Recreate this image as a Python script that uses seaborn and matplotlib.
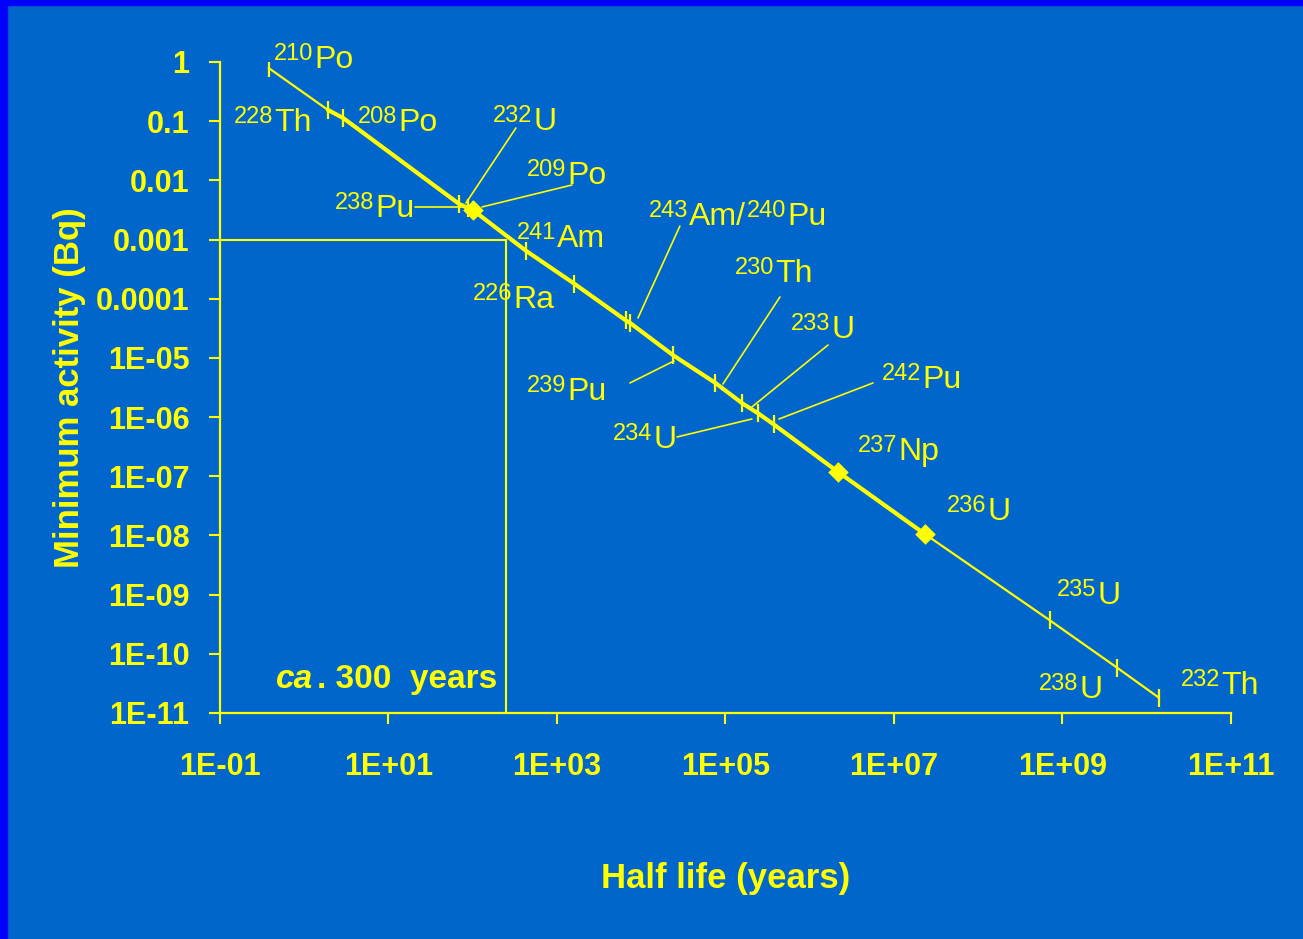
import re
import numpy as np
import pandas as pd
import seaborn as sns
import matplotlib.pyplot as plt
from matplotlib.patches import Rectangle

# Nuclides: half life (years) and minimum detectable activity (Bq)
isotopes = ["210Po", "228Th", "208Po", "232U", "238Pu", "209Po", "241Am", "226Ra",
            "240Pu", "243Am", "239Pu", "230Th", "233U", "234U", "242Pu", "237Np",
            "236U", "235U", "238U", "232Th"]
half_life = [0.379, 1.91, 2.90, 68.9, 87.7, 102, 432.6, 1600,
             6561, 7370, 24110, 75400, 159200, 245500, 375000, 2.14e6,
             2.34e7, 7.04e8, 4.47e9, 1.405e10]
min_activity = [0.79, 0.155, 0.113, 4.0e-3, 3.4e-3, 3.1e-3, 6.4e-4, 1.8e-4,
                4.3e-5, 3.9e-5, 1.1e-5, 3.8e-6, 1.7e-6, 1.15e-6, 7.5e-7, 1.2e-7,
                1.05e-8, 3.7e-10, 5.8e-11, 1.8e-11]
diamond_isotopes = ["209Po", "237Np", "236U"]
thick_from, thick_to = "228Th", "236U"

# ca. 300 years reference box
ref_half_life = 250
ref_activity = 1e-3

# labels: text, x, y (baseline of the element symbol)
label_text = ["210Po", "228Th", "208Po", "232U", "209Po", "238Pu", "241Am", "226Ra",
              "243Am/240Pu", "230Th", "233U", "239Pu", "234U", "242Pu", "237Np",
              "236U", "235U", "238U", "232Th"]
label_x = [0.438, 0.1466, 4.35, 174, 440, 2.32, 335, 101, 1.24e4,
           1.30e5, 5.99e5, 440, 4620, 7.21e6, 3.74e6, 4.26e7, 8.61e8, 5.26e8, 2.55e10]
label_y = [0.792, 0.0682, 0.0682, 0.0710, 8.68e-3, 2.40e-3, 7.48e-4, 6.97e-5, 1.76e-3,
           1.92e-4, 2.17e-5, 1.94e-6, 3.00e-7, 3.10e-6, 1.88e-7, 1.82e-8, 6.95e-10,
           1.79e-11, 2.09e-11]

# leader lines from label to point
leader_x0 = [20.6, 326, 1507, 2.88e4, 7350, 4.44e5, 1.65e6, 2.66e4, 5.64e6]
leader_y0 = [3.55e-3, 0.0767, 8.35e-3, 1.69e-3, 3.77e-6, 1.07e-4, 1.65e-5, 4.61e-7, 3.77e-6]
leader_x1 = [74.5, 83.2, 129, 9150, 2.45e4, 9.34e4, 2.06e5, 2.06e5, 4.32e5]
leader_y1 = [3.55e-3, 4.14e-3, 3.55e-3, 4.72e-5, 8.87e-6, 3.62e-6, 1.48e-6, 9.28e-7, 9.28e-7]

x_ticks = [1e-1, 1e1, 1e3, 1e5, 1e7, 1e9, 1e11]
x_tick_labels = ["1E-01", "1E+01", "1E+03", "1E+05", "1E+07", "1E+09", "1E+11"]
y_ticks = [1, 1e-1, 1e-2, 1e-3, 1e-4, 1e-5, 1e-6, 1e-7, 1e-8, 1e-9, 1e-10, 1e-11]
y_tick_labels = ["1", "0.1", "0.01", "0.001", "0.0001", "1E-05", "1E-06", "1E-07",
                 "1E-08", "1E-09", "1E-10", "1E-11"]

bg = "#0066CC"
yellow = "#FFFF00"

sns.set_style("ticks")
plt.rcParams['font.family'] = ['Liberation Sans', 'DejaVu Sans']


def isotope_label(ax, x, y, label, size=23, sup_size=17):
    # mass numbers as raised smaller text, element symbols at normal size
    parts = re.findall(r"\d+|[^\d]+", label)
    prev = None
    for p in parts:
        sup = p.isdigit()
        fs = sup_size if sup else size
        if prev is None:
            prev = ax.annotate(p, xy=(x, y), xytext=(0, 5.5 if sup else 0), textcoords="offset points",
                               fontsize=fs, color=yellow, ha="left", va="baseline", zorder=5)
        else:
            prev = ax.annotate(p, xy=(1, 0), xycoords=prev, xytext=(0.5, 6.8 if sup else -6.8),
                               textcoords="offset points", fontsize=fs, color=yellow,
                               ha="left", va="bottom", zorder=5)


df = pd.DataFrame({"isotope": isotopes, "half_life": half_life, "activity": min_activity})
i0, i1 = isotopes.index(thick_from), isotopes.index(thick_to)
df_thick = df.iloc[i0:i1 + 1]
df_diam = df[df["isotope"].isin(diamond_isotopes)]

fig = plt.figure(figsize=(13.03, 9.39), dpi=100, facecolor=bg)
ax = fig.add_axes([0.1688, 0.2407, 0.7759, 0.6933])
ax.set_facecolor(bg)
ax.set(xscale="log", yscale="log")

# frame strips of the slide
fig.patches.append(Rectangle((0, 0), 7 / 1303, 1, transform=fig.transFigure, color="#0000FF", zorder=0))
fig.patches.append(Rectangle((0, 1 - 5 / 939), 1, 5 / 939, transform=fig.transFigure, color="#0000FF", zorder=0))

# reference box at ca. 300 years
ax.plot([0.1, ref_half_life], [ref_activity, ref_activity], color=yellow, lw=1.5, zorder=2)
ax.plot([ref_half_life, ref_half_life], [1e-11, ref_activity], color=yellow, lw=1.5, zorder=2)

sns.lineplot(data=df, x="half_life", y="activity", ax=ax, color=yellow, lw=1.6,
             marker="|", markersize=13, markeredgewidth=1.6, markeredgecolor=yellow, zorder=3)
sns.lineplot(data=df_thick, x="half_life", y="activity", ax=ax, color=yellow, lw=3.0, zorder=3)
sns.scatterplot(data=df_diam, x="half_life", y="activity", ax=ax, color=yellow, marker="D",
                s=110, edgecolor=yellow, linewidth=0, zorder=4)

for x0, y0, x1, y1 in zip(leader_x0, leader_y0, leader_x1, leader_y1):
    ax.plot([x0, x1], [y0, y1], color=yellow, lw=1.2, zorder=3)

for t, x, y in zip(label_text, label_x, label_y):
    isotope_label(ax, x, y, t)

t1 = ax.text(0.462, 2.0e-11, "ca", color=yellow, fontsize=24, fontweight="bold",
             fontstyle="italic", ha="left", va="bottom")
ax.annotate(". 300  years", xy=(1, 0), xycoords=t1, xytext=(3, 0), textcoords="offset points",
            color=yellow, fontsize=24, fontweight="bold", ha="left", va="bottom")

ax.set_xlim(1e-1, 1e11)
ax.set_ylim(1e-11, 1)
ax.minorticks_off()
ax.set_xticks(x_ticks, x_tick_labels, fontsize=22, fontweight="bold", color=yellow)
ax.set_yticks(y_ticks, y_tick_labels, fontsize=22, fontweight="bold", color=yellow)
ax.tick_params(axis="both", colors=yellow, length=8, width=1.5, direction="out")
ax.tick_params(axis="x", pad=20)
ax.tick_params(axis="y", pad=14)

for s in ["top", "right"]:
    ax.spines[s].set_visible(False)
for s in ["left", "bottom"]:
    ax.spines[s].set_color(yellow)
    ax.spines[s].set_linewidth(1.6)

ax.set_xlabel("Half life (years)", fontsize=25, fontweight="bold", color=yellow)
ax.set_ylabel("Minimum activity (Bq)", fontsize=25, fontweight="bold", color=yellow)
ax.xaxis.set_label_coords(0.5, -0.229)
ax.yaxis.set_label_coords(-0.132, 0.5)

fig.savefig("out.png", dpi=100, facecolor=fig.get_facecolor())
